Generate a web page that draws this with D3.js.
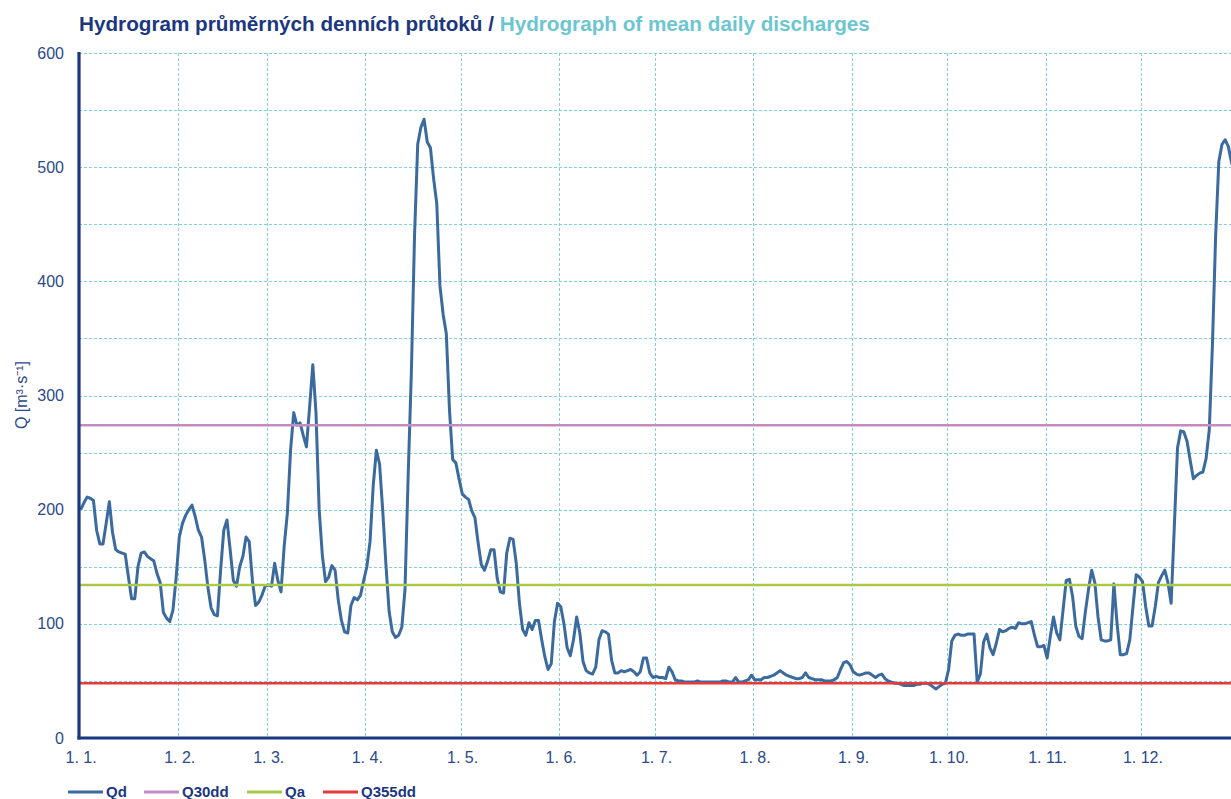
<!DOCTYPE html>
<html>
<head>
<meta charset="utf-8">
<script src="https://cdn.jsdelivr.net/npm/d3@7"></script>
<style>
  body { margin: 0; background: #fff; }
  svg { display: block; font-family: "Liberation Sans", Arial, sans-serif; }
</style>
</head>
<body>
<svg id="chart" width="1231" height="799"></svg>
<script>
// mean daily discharges Qd [m3/s], one array per month (non-leap year)
const jan = [200,206,211,210,208,182,170,170,188,207,180,165,163,162,161,141,122,122,150,162,163,159,157,155,144,136,110,105,102,112,140];
const feb = [176,188,195,200,204,194,182,176,156,132,114,108,107,147,182,191,165,138,133,150,159,176,172,138,116,119,125,133];
const mar = [134,133,153,138,128,168,197,252,285,274,276,265,255,290,327,285,200,160,137,141,151,147,121,103,93,92,116,123,121,125,138];
const apr = [150,172,221,252,240,199,152,111,93,88,90,97,130,230,320,440,520,535,542,522,517,490,468,396,371,354,287,244,241,227];
const may = [214,211,209,199,193,171,152,147,155,165,165,140,128,127,162,175,174,153,118,95,90,101,95,103,103,86,71,60,65,102,118];
const jun = [115,100,79,72,86,106,92,67,59,57,56,62,86,94,93,91,68,57,57,59,58,59,60,58,55,58,70,70,57,53];
const jul = [54,53,53,52,62,58,51,50,50,49,49,49,49,50,49,49,49,49,49,49,49,50,50,49,49,53,49,49,50,51,55];
const aug = [51,51,51,53,53,54,55,57,59,57,55,54,53,52,52,53,57,53,52,51,51,51,50,50,50,51,53,60,66,67,64];
const sep = [58,56,55,56,57,57,55,53,55,56,52,50,49,48,48,47,46,46,46,46,47,47,48,48,47,45,43,45,47,48];
const oct = [60,85,90,91,90,90,91,91,91,49,56,84,91,79,73,83,95,93,94,96,97,96,101,100,100,101,102,90,80,80,81];
const nov = [70,89,106,92,86,112,138,139,124,98,89,87,110,130,147,136,106,86,85,85,86,135,100,73,73,74,86,115,143,141];
const dec = [137,115,98,98,115,136,142,147,136,118,185,254,269,268,260,243,227,230,232,233,245,270,345,440,505,520,524,518,504,495,485];

// characteristic discharges
const q30dd = 274;
const qa = 134;
const q355dd = 48;

const yTicks = [0, 100, 200, 300, 400, 500, 600];
const yGrid = d3.range(50, 601, 50);

const legendItems = [
  { key: "Qd", color: "#3b6a9f" },
  { key: "Q30dd", color: "#c48ac2" },
  { key: "Qa", color: "#aac94b" },
  { key: "Q355dd", color: "#e6393d" }
];

const navy = "#1b3781";
const tickColor = "#2b4a8b";
const gridColor = "#86d0dc";

const svg = d3.select("#chart");

const year = 2019;
const days = [].concat(jan, feb, mar, apr, may, jun, jul, aug, sep, oct, nov, dec)
  .map((v, i) => ({ date: new Date(year, 0, 1 + i, 12), value: v }));

// the plot runs past the right edge of the picture
const x = d3.scaleTime()
  .domain([new Date(year, 0, 1), new Date(year + 1, 0, 1)])
  .range([79.15, 79.15 + 365 * 3.179]);

const y = d3.scaleLinear().domain([0, 600]).range([738, 53]);

const left = 79, right = 1231;
const months = d3.timeMonth.range(new Date(year, 0, 1), new Date(year, 11, 2));

// grid
const grid = svg.append("g")
  .attr("stroke", gridColor)
  .attr("stroke-width", 1)
  .attr("stroke-dasharray", "3,2");

grid.selectAll("line.h")
  .data(yGrid)
  .enter()
  .append("line")
  .attr("class", "h")
  .attr("x1", left)
  .attr("x2", right)
  .attr("y1", d => Math.round(y(d)) + 0.5)
  .attr("y2", d => Math.round(y(d)) + 0.5);

grid.selectAll("line.v")
  .data(months.slice(1))
  .enter()
  .append("line")
  .attr("class", "v")
  .attr("x1", d => Math.round(x(d)) + 0.5)
  .attr("x2", d => Math.round(x(d)) + 0.5)
  .attr("y1", y(600))
  .attr("y2", y(0));

// Qd line
const line = d3.line()
  .x(d => x(d.date))
  .y(d => y(d.value));

svg.append("path")
  .datum(days)
  .attr("fill", "none")
  .attr("stroke", legendItems[0].color)
  .attr("stroke-width", 3)
  .attr("stroke-linejoin", "round")
  .attr("d", line);

// reference discharges on top
const refs = [
  { v: q30dd, color: legendItems[1].color },
  { v: qa, color: legendItems[2].color },
  { v: q355dd, color: legendItems[3].color }
];

svg.selectAll("line.ref")
  .data(refs)
  .enter()
  .append("line")
  .attr("class", "ref")
  .attr("x1", left)
  .attr("x2", right)
  .attr("y1", d => y(d.v))
  .attr("y2", d => y(d.v))
  .attr("stroke", d => d.color)
  .attr("stroke-width", 2.6);

// axes
svg.append("line")
  .attr("x1", left).attr("x2", left)
  .attr("y1", 52).attr("y2", 739.5)
  .attr("stroke", navy).attr("stroke-width", 3.2);

svg.append("line")
  .attr("x1", left - 1.5).attr("x2", right)
  .attr("y1", 738).attr("y2", 738)
  .attr("stroke", navy).attr("stroke-width", 3.2);

// y tick labels
svg.selectAll("text.ytick")
  .data(yTicks)
  .enter()
  .append("text")
  .attr("class", "ytick")
  .attr("x", 64)
  .attr("y", d => y(d))
  .attr("dy", "0.35em")
  .attr("text-anchor", "end")
  .attr("font-size", 16)
  .attr("fill", tickColor)
  .text(d => d);

// x tick labels
svg.selectAll("text.xtick")
  .data(months)
  .enter()
  .append("text")
  .attr("class", "xtick")
  .attr("x", d => x(d) + 2)
  .attr("y", 763)
  .attr("text-anchor", "middle")
  .attr("font-size", 16)
  .attr("fill", tickColor)
  .text(d => d.getDate() + ". " + (d.getMonth() + 1) + ".");

// y label
svg.append("text")
  .attr("transform", "translate(27,395) rotate(-90)")
  .attr("text-anchor", "middle")
  .attr("font-size", 16)
  .attr("fill", tickColor)
  .text("Q [m³·s⁻¹]");

// title
const title = svg.append("text")
  .attr("x", 79)
  .attr("y", 31)
  .attr("font-size", 20.7)
  .attr("font-weight", "bold");
title.append("tspan").attr("fill", navy).text("Hydrogram průměrných denních průtoků / ");
title.append("tspan").attr("fill", "#6cc6d0").text("Hydrograph of mean daily discharges");

// legend
const legendX = [68, 144, 247, 323];
const legend = svg.append("g");
const entry = legend.selectAll("g")
  .data(legendItems)
  .enter()
  .append("g")
  .attr("transform", (d, i) => "translate(" + legendX[i] + ",792)");

entry.append("line")
  .attr("x1", 0).attr("x2", 35)
  .attr("stroke", d => d.color)
  .attr("stroke-width", 2.8);

entry.append("text")
  .attr("x", 38)
  .attr("y", 5)
  .attr("font-size", 15)
  .attr("font-weight", "bold")
  .attr("fill", navy)
  .text(d => d.key);
</script>
</body>
</html>
